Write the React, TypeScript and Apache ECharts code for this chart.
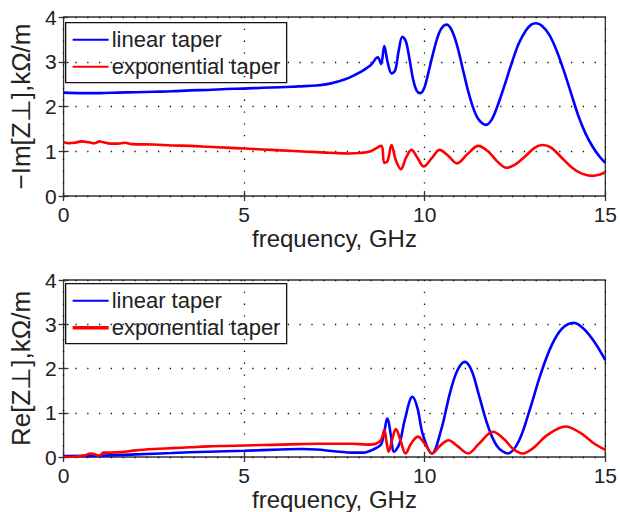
import React, { useEffect, useRef } from "react";
import * as echarts from "echarts";

// Top panel: -Im[Z⊥]
const imFreqLinear = [0, 0.5, 1, 1.5, 2, 2.5, 3, 3.5, 4, 4.5, 5, 5.5, 6, 6.5, 7, 7.3, 7.6, 7.9, 8.2, 8.5, 8.7, 8.79, 8.88, 8.97, 9.08, 9.18, 9.28, 9.38, 9.48, 9.58, 9.68, 9.78, 9.88, 9.98, 10.1, 10.25, 10.4, 10.52, 10.61, 10.75, 10.9, 11.05, 11.2, 11.35, 11.5, 11.7, 11.85, 12.0, 12.2, 12.4, 12.6, 12.8, 12.95, 13.08, 13.25, 13.45, 13.65, 13.85, 14.05, 14.25, 14.45, 14.65, 14.85, 15];
const imLinear = [2.31, 2.3, 2.3, 2.31, 2.32, 2.33, 2.34, 2.36, 2.37, 2.39, 2.4, 2.42, 2.43, 2.45, 2.47, 2.5, 2.56, 2.64, 2.76, 2.92, 3.1, 2.95, 3.35, 3.0, 2.74, 2.8, 3.25, 3.56, 3.45, 3.05, 2.6, 2.35, 2.3, 2.4, 2.75, 3.25, 3.65, 3.8, 3.83, 3.7, 3.35, 2.85, 2.35, 1.95, 1.7, 1.59, 1.7, 1.98, 2.45, 2.95, 3.4, 3.7, 3.83, 3.86, 3.8, 3.6, 3.25, 2.8, 2.3, 1.8, 1.4, 1.1, 0.87, 0.74];

const imFreqExp = [0, 0.15, 0.3, 0.5, 0.7, 0.85, 1.0, 1.1, 1.3, 1.5, 1.7, 1.9, 2.5, 3, 3.5, 4, 4.5, 5, 5.5, 6, 6.5, 7, 7.5, 7.9, 8.2, 8.5, 8.79, 8.88, 8.97, 9.08, 9.2, 9.34, 9.48, 9.63, 9.8, 9.97, 10.2, 10.41, 10.65, 10.89, 11.2, 11.48, 11.75, 12.0, 12.26, 12.5, 12.8, 13.05, 13.26, 13.5, 13.8, 14.1, 14.35, 14.63, 14.85, 15];
const imExp = [1.2, 1.18, 1.19, 1.22, 1.2, 1.18, 1.22, 1.2, 1.17, 1.17, 1.19, 1.16, 1.15, 1.13, 1.12, 1.1, 1.08, 1.06, 1.04, 1.02, 1.0, 0.98, 0.96, 0.95, 0.96, 1.0, 1.12, 0.74, 0.78, 1.14, 0.8, 0.6, 0.85, 1.03, 0.85, 0.66, 0.85, 1.03, 0.9, 0.73, 0.95, 1.12, 1.0, 0.78, 0.63, 0.7, 0.9, 1.08, 1.14, 1.08, 0.85, 0.62, 0.5, 0.45, 0.48, 0.53];

// Bottom panel: Re[Z⊥]
const reFreqLinear = [0, 1, 2, 3, 4, 5, 6, 6.6, 7, 7.5, 8, 8.3, 8.6, 8.8, 8.97, 9.06, 9.15, 9.3, 9.45, 9.66, 9.8, 9.95, 10.2, 10.45, 10.7, 10.9, 11.11, 11.3, 11.5, 11.75, 12.0, 12.3, 12.6, 12.9, 13.2, 13.5, 13.8, 14.13, 14.4, 14.7, 15];
const reLinear = [0.02, 0.03, 0.06, 0.09, 0.12, 0.14, 0.17, 0.18, 0.17, 0.13, 0.1, 0.1, 0.18, 0.3, 0.87, 0.5, 0.12, 0.3, 0.85, 1.36, 1.1, 0.5, 0.08, 0.6, 1.45, 1.95, 2.15, 1.95, 1.4, 0.7, 0.25, 0.08, 0.35, 1.05, 1.85, 2.5, 2.9, 3.03, 2.9, 2.6, 2.19];

const reFreqExp = [0, 0.4, 0.6, 0.75, 0.9, 1.0, 1.1, 1.3, 1.6, 2, 2.5, 3, 3.5, 4, 4.5, 5, 5.5, 6, 6.5, 7, 7.5, 8, 8.4, 8.65, 8.8, 8.88, 8.95, 9.0, 9.1, 9.2, 9.32, 9.47, 9.62, 9.81, 10.0, 10.2, 10.42, 10.66, 10.9, 11.2, 11.5, 11.89, 12.2, 12.45, 12.71, 13.0, 13.4, 13.9, 14.3, 14.7, 15];
const reExp = [0.0, 0.01, 0.04, 0.08, 0.05, 0.03, 0.1, 0.1, 0.11, 0.15, 0.18, 0.2, 0.22, 0.24, 0.25, 0.26, 0.27, 0.28, 0.29, 0.3, 0.3, 0.3, 0.28, 0.3, 0.4, 0.61, 0.3, 0.12, 0.4, 0.63, 0.4, 0.08, 0.3, 0.46, 0.3, 0.08, 0.25, 0.38, 0.25, 0.08, 0.3, 0.57, 0.4, 0.18, 0.08, 0.2, 0.5, 0.69, 0.55, 0.3, 0.16];

const seriesNames = ["linear taper", "exponential taper"];
const xName = "frequency, GHz";
const yNameTop = "\u2212Im[Z\u22a5],k\u03a9/m";
const yNameBottom = "Re[Z\u22a5],k\u03a9/m";

const BLUE = "#0000ff";
const RED = "#ff0000";
const FONT = "Liberation Sans, Arial, Helvetica, sans-serif";
const TXT = "#222";

const pairs = (xs: number[], ys: number[]) => xs.map((x, i) => [x, ys[i]]);

export default function App() {
  const ref = useRef<HTMLDivElement>(null);
  useEffect(() => {
    document.body.style.margin = "0";
    const chart = echarts.init(ref.current!, null, { renderer: "svg" });
    const grids = [
      { left: 59, top: 17, width: 548, height: 179 },
      { left: 59, top: 280, width: 548, height: 177 },
    ];
    const dotted = { color: "#111", width: 1.3, type: [1.3, 10.5] as any };
    const tick = { show: true, inside: true, length: 5, lineStyle: { color: "#333", width: 1.3 } };
    const xAxes: any[] = [];
    const yAxes: any[] = [];
    [0, 1].forEach((g) => {
      xAxes.push({
        type: "value", gridIndex: g, min: 0, max: 15, interval: 5, position: "bottom",
        axisLine: { show: false }, axisTick: tick,
        axisLabel: { fontSize: 21, color: TXT, fontFamily: FONT, margin: 8 },
        splitLine: { show: true, lineStyle: dotted },
        name: xName, nameLocation: "middle", nameGap: 30,
        nameTextStyle: { fontSize: 24, color: TXT, fontFamily: FONT },
      });
      xAxes.push({
        type: "value", gridIndex: g, min: 0, max: 15, interval: 5, position: "top",
        axisLine: { show: false }, axisTick: tick,
        axisLabel: { show: false }, splitLine: { show: false },
      });
      yAxes.push({
        type: "value", gridIndex: g, min: 0, max: 4, interval: 1, position: "left",
        axisLine: { show: false }, axisTick: tick,
        axisLabel: { fontSize: 21, color: TXT, fontFamily: FONT, margin: 7 },
        splitLine: { show: true, lineStyle: dotted },
        name: g === 0 ? yNameTop : yNameBottom, nameLocation: "middle", nameGap: 24,
        nameTextStyle: { fontSize: 26, color: TXT, fontFamily: FONT },
      });
      yAxes.push({
        type: "value", gridIndex: g, min: 0, max: 4, interval: 1, position: "right",
        axisLine: { show: false }, axisTick: tick,
        axisLabel: { show: false }, splitLine: { show: false },
      });
    });
    const line = (name: string, g: number, data: number[][], color: string, width: number) => ({
      type: "line", name, xAxisIndex: g * 2, yAxisIndex: g * 2, data,
      showSymbol: false, smooth: 0.35, lineStyle: { color, width }, itemStyle: { color },
    });
    const legendBox = (top: number, redWidth: number) => ({
      type: "group", left: 65, top, children: [
        { type: "rect", shape: { x: 0, y: 0, width: 221, height: 60 }, style: { fill: "#fff", stroke: "#111", lineWidth: 1.3 } },
        { type: "line", shape: { x1: 7, y1: 17, x2: 43, y2: 17 }, style: { stroke: BLUE, lineWidth: 2 } },
        { type: "line", shape: { x1: 7, y1: 44, x2: 43, y2: 44 }, style: { stroke: RED, lineWidth: redWidth } },
        { type: "text", x: 46, y: 17, style: { text: seriesNames[0], font: `22px ${FONT}`, fill: TXT, verticalAlign: "middle" } },
        { type: "text", x: 46, y: 44, style: { text: seriesNames[1], font: `22px ${FONT}`, fill: TXT, verticalAlign: "middle" } },
      ],
    });
    chart.setOption({
      animation: false,
      backgroundColor: "#fff",
      grid: grids.map((g) => ({ ...g, show: true, borderColor: "#333", borderWidth: 1.3, backgroundColor: "transparent" })),
      xAxis: xAxes,
      yAxis: yAxes,
      series: [
        line(seriesNames[0], 0, pairs(imFreqLinear, imLinear), BLUE, 2.6),
        line(seriesNames[1], 0, pairs(imFreqExp, imExp), RED, 2.6),
        line(seriesNames[0], 1, pairs(reFreqLinear, reLinear), BLUE, 2.6),
        line(seriesNames[1], 1, pairs(reFreqExp, reExp), RED, 2.6),
      ],
      graphic: [legendBox(22, 2), legendBox(283, 3.5)],
    });
    return () => chart.dispose();
  }, []);
  return <div ref={ref} style={{ width: 620, height: 512 }} />;
}
